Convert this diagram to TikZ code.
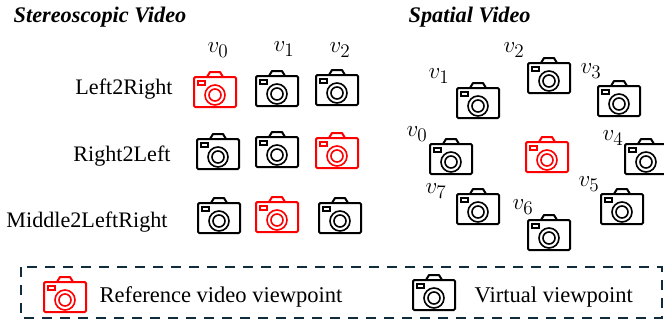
\documentclass[tikz,border=0pt]{standalone}
\usepackage{fontspec}
\setmainfont{Liberation Serif}
\usetikzlibrary{positioning}
\definecolor{legendnavy}{HTML}{0F2B3C}
\tikzset{
	camera/.pic={
		\draw[line width=1.5pt, rounded corners=1pt] (-21,-15) rectangle (21,15);
		\draw[line width=1.5pt, line join=round] (-8,-15) -- (-5,-20) -- (5,-20) -- (8,-15);
		\draw[line width=1pt] (-17,-11) rectangle (-10,-7);
		\draw[line width=1.2pt] (0,3) circle (10);
		\draw[line width=1.2pt] (0,3) circle (6);
	},
	title/.style={font=\fontsize{16.7}{20}\selectfont\bfseries\itshape, anchor=west},
	rowlabel/.style={font=\fontsize{16.6}{20}\selectfont},
	viewlabel/.style={font=\fontsize{19}{22}\selectfont},
	legendlabel/.style={font=\fontsize{16.9}{20}\selectfont, anchor=west},
}

\begin{document}
\begin{tikzpicture}[x=0.75pt, y=-0.75pt]
	\useasboundingbox (0,0) rectangle (664,326);
	% stereoscopic side
	\node[title] (stereotitle) at (9,17) {Stereoscopic Video};
	\node[viewlabel] (stereoa) at (218,50) {$v_0$};
	\node[viewlabel] (stereob) at (284,49) {$v_1$};
	\node[viewlabel] (stereoc) at (340,50) {$v_2$};
	\node[rowlabel] (leftright) at (124,89) {Left2Right};
	\node[rowlabel] (rightleft) at (122,156) {Right2Left};
	\node[rowlabel] (middle) at (87,222) {Middle2LeftRight};
	\pic[red] at (215,92) {camera};
	\pic at (277,91) {camera};
	\pic at (337,90) {camera};
	\pic at (218,154) {camera};
	\pic at (277,152) {camera};
	\pic[red] at (337,153) {camera};
	\pic at (219,218) {camera};
	\pic[red] at (277,217) {camera};
	\pic at (340,218) {camera};
	% spatial side
	\node[title] (spatialtitle) at (404,17) {Spatial Video};
	\node[viewlabel] (spatiala) at (417,134) {$v_0$};
	\node[viewlabel] (spatialb) at (439,76) {$v_1$};
	\node[viewlabel] (spatialc) at (514,50) {$v_2$};
	\node[viewlabel] (spatiald) at (591,71) {$v_3$};
	\node[viewlabel] (spatiale) at (613,138) {$v_4$};
	\node[viewlabel] (spatialf) at (589,184) {$v_5$};
	\node[viewlabel] (spatialg) at (523,207) {$v_6$};
	\node[viewlabel] (spatialh) at (436,191) {$v_7$};
	\pic at (451,159) {camera};
	\pic at (478,103) {camera};
	\pic at (549,78) {camera};
	\pic at (619,101) {camera};
	\pic at (646,159) {camera};
	\pic at (622,209) {camera};
	\pic at (549,235) {camera};
	\pic at (478,209) {camera};
	\pic[red] at (547,157) {camera};
	% legend
	\draw[legendnavy, line width=2pt, dash pattern=on 7.5pt off 6pt] (21,267) rectangle (662,318);
	\pic[red] at (65,297) {camera};
	\node[legendlabel] (reflabel) at (95,297) {Reference video viewpoint};
	\pic at (434,295) {camera};
	\node[legendlabel] (virtlabel) at (470,297) {Virtual viewpoint};
\end{tikzpicture}
\end{document}
